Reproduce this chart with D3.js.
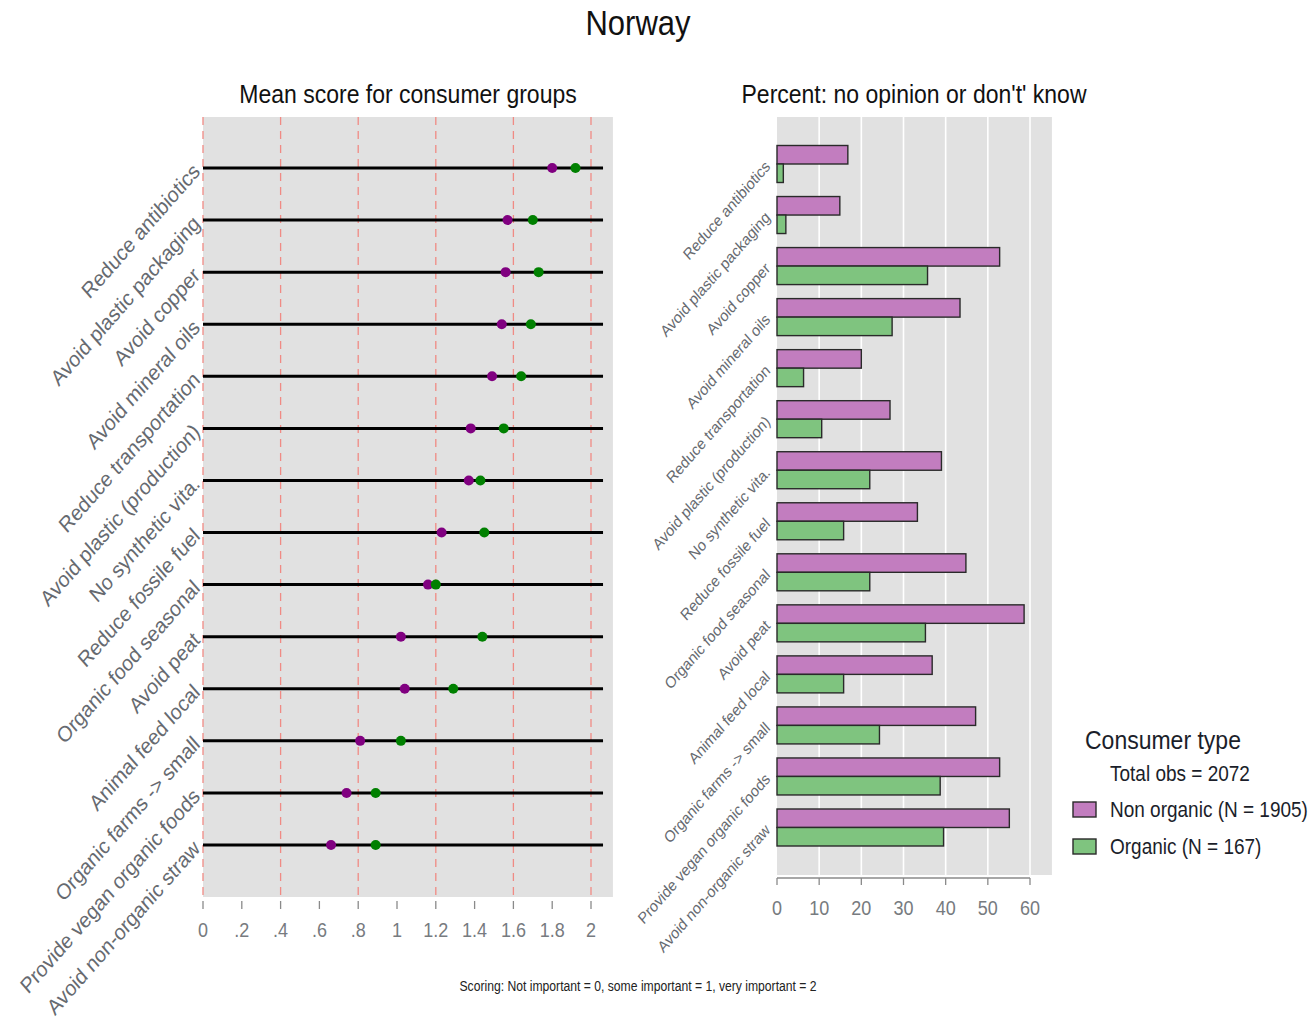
<!DOCTYPE html>
<html>
<head>
<meta charset="utf-8">
<script src="https://cdn.jsdelivr.net/npm/d3@7"></script>
<style>
  html, body { margin: 0; padding: 0; background: #fff; }
  svg { display: block; font-family: "Liberation Sans", Arial, sans-serif; }
</style>
</head>
<body>
<svg id="chart" width="1311" height="1019"></svg>
<script>
// Measures, top to bottom
const measures = [
  "Reduce antibiotics", "Avoid plastic packaging", "Avoid copper", "Avoid mineral oils",
  "Reduce transportation", "Avoid plastic (production)", "No synthetic vita.",
  "Reduce fossile fuel", "Organic food seasonal", "Avoid peat", "Animal feed local",
  "Organic farms -> small", "Provide vegan organic foods", "Avoid non-organic straw"
];

// Mean importance score (0 = not important, 2 = very important)
const meanNonOrganic = [1.80, 1.57, 1.56, 1.54, 1.49, 1.38, 1.37, 1.23, 1.16, 1.02, 1.04, 0.81, 0.74, 0.66];
const meanOrganic    = [1.92, 1.70, 1.73, 1.69, 1.64, 1.55, 1.43, 1.45, 1.20, 1.44, 1.29, 1.02, 0.89, 0.89];

// Percent answering "no opinion / don't know"
const pctNonOrganic = [16.8, 14.9, 52.8, 43.4, 20.0, 26.8, 39.0, 33.3, 44.8, 58.6, 36.8, 47.1, 52.8, 55.1];
const pctOrganic    = [1.5, 2.1, 35.7, 27.3, 6.3, 10.6, 22.0, 15.8, 22.0, 35.2, 15.8, 24.3, 38.7, 39.5];

const scoreTicks = [0, 0.2, 0.4, 0.6, 0.8, 1, 1.2, 1.4, 1.6, 1.8, 2];
const scoreTickLabels = ["0", ".2", ".4", ".6", ".8", "1", "1.2", "1.4", "1.6", "1.8", "2"];
const scoreGrid = [0, 0.4, 0.8, 1.2, 1.6, 2];
const pctTicks = [0, 10, 20, 30, 40, 50, 60];

const groups = ["Non organic (N = 1905)", "Organic (N = 167)"];
const totalObs = 2072;

const PURPLE_DOT = "#800080", GREEN_DOT = "#008000";
const PURPLE_BAR = "#c27dbf", GREEN_BAR = "#7fc47f";
const LABEL = "#666a70";
const SY = 1.14; // vertical text stretch

const svg = d3.select("#chart");

function stretchedText(g, x, y, str, opts) {
  const t = g.append("text")
    .attr("transform", `translate(${x},${y}) scale(1,${SY})` + (opts.rotate ? ` rotate(${opts.rotate})` : ""))
    .attr("font-size", opts.size)
    .attr("fill", opts.fill || "#111")
    .attr("text-anchor", opts.anchor || "middle")
    .text(str);
  if (opts.dy) t.attr("dy", opts.dy);
  return t;
}

// Title
stretchedText(svg, 638, 35, "Norway", { size: 31 });

// ---------- Left panel: mean scores ----------
const xL = d3.scaleLinear().domain([0, 2]).range([203, 591]);
const yL = d3.scalePoint().domain(measures).range([168, 845]);
const left = svg.append("g");

left.append("rect")
  .attr("x", xL(0)).attr("y", 117)
  .attr("width", xL(2.113) - xL(0)).attr("height", 897 - 117)
  .attr("fill", "#e1e1e1");

left.selectAll("line.grid").data(scoreGrid).join("line")
  .attr("class", "grid")
  .attr("x1", d => xL(d)).attr("x2", d => xL(d))
  .attr("y1", 117).attr("y2", 897)
  .attr("stroke", "#f08a84").attr("stroke-width", 1.3)
  .attr("stroke-dasharray", "8,6");

left.selectAll("line.row").data(measures).join("line")
  .attr("class", "row")
  .attr("x1", xL(0)).attr("x2", xL(2.062))
  .attr("y1", d => yL(d)).attr("y2", d => yL(d))
  .attr("stroke", "#000").attr("stroke-width", 3);

left.selectAll("circle.non").data(measures).join("circle")
  .attr("class", "non")
  .attr("cx", (d, i) => xL(meanNonOrganic[i])).attr("cy", d => yL(d))
  .attr("r", 5).attr("fill", PURPLE_DOT);

left.selectAll("circle.org").data(measures).join("circle")
  .attr("class", "org")
  .attr("cx", (d, i) => xL(meanOrganic[i])).attr("cy", d => yL(d))
  .attr("r", 5).attr("fill", GREEN_DOT);

// x axis (ticks only, no baseline)
const axL = left.append("g");
axL.selectAll("line").data(scoreTicks).join("line")
  .attr("x1", d => xL(d)).attr("x2", d => xL(d))
  .attr("y1", 901).attr("y2", 909)
  .attr("stroke", "#8a8a8a").attr("stroke-width", 1.3);
scoreTicks.forEach((d, i) =>
  stretchedText(axL, xL(d), 937, scoreTickLabels[i], { size: 18, fill: "#777b80" }));

// category labels
measures.forEach(m =>
  stretchedText(left, 197, yL(m), m, { size: 19.3, fill: LABEL, anchor: "end", rotate: -45, dy: "0.3em" }));

stretchedText(svg, 408, 103, "Mean score for consumer groups", { size: 23 });

// ---------- Right panel: percent no opinion ----------
const xR = d3.scaleLinear().domain([0, 60]).range([777, 1030]);
const yR = d3.scalePoint().domain(measures).range([164, 827.5]);
const barH = 18.5;
const right = svg.append("g");

right.append("rect")
  .attr("x", xR(0)).attr("y", 117)
  .attr("width", xR(65.2) - xR(0)).attr("height", 875 - 117)
  .attr("fill", "#e1e1e1");

right.selectAll("line.grid").data(pctTicks.slice(1)).join("line")
  .attr("class", "grid")
  .attr("x1", d => xR(d)).attr("x2", d => xR(d))
  .attr("y1", 117).attr("y2", 875)
  .attr("stroke", "#ffffff").attr("stroke-width", 1.6);

right.selectAll("rect.non").data(measures).join("rect")
  .attr("class", "non")
  .attr("x", xR(0)).attr("y", d => yR(d) - barH)
  .attr("width", (d, i) => xR(pctNonOrganic[i]) - xR(0)).attr("height", barH)
  .attr("fill", PURPLE_BAR).attr("stroke", "#2a2a2a").attr("stroke-width", 1.4);

right.selectAll("rect.org").data(measures).join("rect")
  .attr("class", "org")
  .attr("x", xR(0)).attr("y", d => yR(d))
  .attr("width", (d, i) => xR(pctOrganic[i]) - xR(0)).attr("height", barH)
  .attr("fill", GREEN_BAR).attr("stroke", "#2a2a2a").attr("stroke-width", 1.4);

const axR = right.append("g");
axR.append("line")
  .attr("x1", xR(0)).attr("x2", xR(60)).attr("y1", 878).attr("y2", 878)
  .attr("stroke", "#8a8a8a").attr("stroke-width", 1.3);
axR.selectAll("line.tick").data(pctTicks).join("line")
  .attr("class", "tick")
  .attr("x1", d => xR(d)).attr("x2", d => xR(d))
  .attr("y1", 878).attr("y2", 885)
  .attr("stroke", "#8a8a8a").attr("stroke-width", 1.3);
pctTicks.forEach(d =>
  stretchedText(axR, xR(d), 915, String(d), { size: 18, fill: "#777b80" }));

measures.forEach(m =>
  stretchedText(right, 768, yR(m), m, { size: 14.2, fill: LABEL, anchor: "end", rotate: -45, dy: "0.3em" }));

stretchedText(svg, 914, 103, "Percent: no opinion or don't' know", { size: 23 });

// ---------- Legend ----------
const leg = svg.append("g");
stretchedText(leg, 1085, 749, "Consumer type", { size: 23, anchor: "start", fill: "#1b1e2a" });
stretchedText(leg, 1110, 781, `Total obs = ${totalObs}`, { size: 19, anchor: "start", fill: "#1b1e2a" });
const legFill = [PURPLE_BAR, GREEN_BAR];
groups.forEach((gname, i) => {
  const y = 802 + i * 37;
  leg.append("rect").attr("x", 1073).attr("y", y).attr("width", 23).attr("height", 15)
    .attr("fill", legFill[i]).attr("stroke", "#2a2a2a").attr("stroke-width", 1.4);
  stretchedText(leg, 1110, y + 15, gname, { size: 19, anchor: "start", fill: "#1b1e2a" });
});

// Footnote
stretchedText(svg, 638, 991, "Scoring: Not important = 0, some important = 1, very important = 2", { size: 13, fill: "#222" })
  .attr("textLength", 357).attr("lengthAdjust", "spacingAndGlyphs");
</script>
</body>
</html>
